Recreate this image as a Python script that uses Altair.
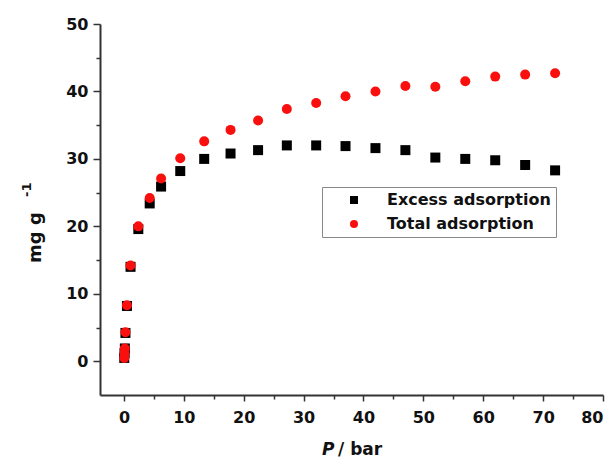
import altair as alt
import pandas as pd

# Data
pressure = [0.05, 0.1, 0.15, 0.25, 0.5, 1.1, 2.4, 4.3, 6.2, 9.4, 13.4, 17.8, 22.4,
            27.2, 32.1, 37.0, 42.0, 47.0, 52.0, 57.0, 62.0, 67.0, 72.0]
excess = [0.5, 1.2, 1.9, 4.2, 8.2, 14.0, 19.6, 23.4, 25.9, 28.2, 30.0, 30.8, 31.3,
          32.0, 32.0, 31.9, 31.6, 31.3, 30.2, 30.0, 29.8, 29.1, 28.3]
total = [0.5, 1.2, 1.9, 4.3, 8.3, 14.2, 20.0, 24.2, 27.1, 30.1, 32.6, 34.3, 35.7,
         37.4, 38.3, 39.3, 40.0, 40.8, 40.7, 41.5, 42.2, 42.5, 42.7]
series_names = ["Excess adsorption", "Total adsorption"]
x_ticks = list(range(0, 81, 5))
y_ticks = list(range(0, 51, 5))

rows = []
for p, v in zip(pressure, excess):
    rows.append({"P": p, "q": v, "series": series_names[0]})
for p, v in zip(pressure, total):
    rows.append({"P": p, "q": v, "series": series_names[1]})
df = pd.DataFrame(rows)

FONT = "DejaVu Sans"
AX = "#333333"

major_tick_x = {"condition": {"test": "datum.value % 10 === 0", "value": 6}, "value": 4}
major_tick_y = {"condition": {"test": "datum.value % 10 === 0", "value": 7}, "value": 4}

points = alt.Chart(df).mark_point(filled=True, opacity=1, size=100).encode(
    x=alt.X("P:Q", scale=alt.Scale(domain=[-4, 80], nice=False, zero=False),
            axis=alt.Axis(values=x_ticks, title=None, grid=False,
                          labelExpr="datum.value % 10 === 0 ? datum.label : ''",
                          tickSize=major_tick_x, labelPadding=8,
                          labelFont=FONT, labelFontSize=16, labelFontWeight="bold",
                          labelColor="#111111", domainColor=AX, domainWidth=2,
                          tickColor=AX, tickWidth=1.5)),
    y=alt.Y("q:Q", scale=alt.Scale(domain=[-5, 50], nice=False, zero=False),
            axis=alt.Axis(values=y_ticks, title=None, grid=False,
                          labelExpr="datum.value % 10 === 0 ? datum.label : ''",
                          tickSize=major_tick_y, labelPadding=5,
                          labelFont=FONT, labelFontSize=16, labelFontWeight="bold",
                          labelColor="#111111", domainColor=AX, domainWidth=2,
                          tickColor=AX, tickWidth=1.5)),
    color=alt.Color("series:N",
                    scale=alt.Scale(domain=series_names, range=["#000000", "#fa0f0f"]),
                    legend=alt.Legend(title=None, orient="none", legendX=222, legendY=163,
                                      labelFont=FONT, labelFontSize=16, labelFontWeight="bold",
                                      labelColor="#111111", labelLimit=400,
                                      symbolSize=65, symbolOffset=19,
                                      labelOffset=25, padding=5, rowPadding=8,
                                      strokeColor="#888888", symbolStrokeWidth=0)),
    shape=alt.Shape("series:N",
                    scale=alt.Scale(domain=series_names, range=["square", "circle"]),
                    legend=alt.Legend(title=None)),
    order=alt.Order("series:N"),
)

lbl = pd.DataFrame({"k": [0]})
x_title_p = alt.Chart(lbl).mark_text(text="P", font=FONT, fontSize=17, fontWeight="bold",
                                     fontStyle="italic", align="left", baseline="alphabetic",
                                     color="#111111").encode(x=alt.value(222), y=alt.value(431))
x_title_rest = alt.Chart(lbl).mark_text(text="/ bar", font=FONT, fontSize=17, fontWeight="bold",
                                        align="left", baseline="alphabetic",
                                        color="#111111").encode(x=alt.value(238), y=alt.value(431))
y_title_main = alt.Chart(lbl).mark_text(text="mg g", font=FONT, fontSize=18, fontWeight="bold",
                                        angle=270, align="left", baseline="alphabetic",
                                        color="#111111").encode(x=alt.value(-59), y=alt.value(239))
y_title_sup = alt.Chart(lbl).mark_text(text="-1", font=FONT, fontSize=13, fontWeight="bold",
                                       angle=270, align="left", baseline="alphabetic",
                                       color="#111111").encode(x=alt.value(-69), y=alt.value(173))

chart = alt.layer(points, x_title_p, x_title_rest, y_title_main, y_title_sup).properties(
    width=503, height=371, autosize="none",
    padding={"left": 100, "top": 24, "right": 13, "bottom": 63},
    background="white",
).configure_view(stroke=None)

chart.save("out.html", embed_options={"renderer": "svg", "actions": False})
